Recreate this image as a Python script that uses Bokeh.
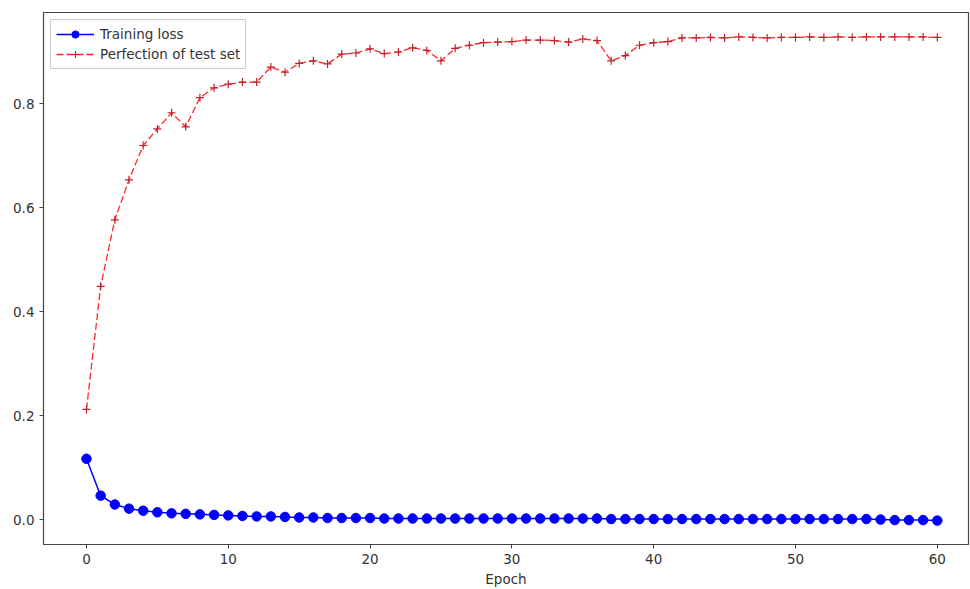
from bokeh.plotting import figure
from bokeh.models import FixedTicker, PrintfTickFormatter, Range1d
from bokeh.embed import file_html
from bokeh.resources import INLINE

epochs = list(range(61))

training_loss = [0.117, 0.046, 0.029, 0.021, 0.017, 0.014, 0.012, 0.011, 0.010, 0.009,
                 0.008, 0.007, 0.006, 0.006, 0.005, 0.004, 0.004, 0.003, 0.003, 0.003,
                 0.003, 0.002, 0.002, 0.002, 0.002, 0.002, 0.002, 0.002, 0.002, 0.002,
                 0.002, 0.002, 0.002, 0.002, 0.002, 0.002, 0.002, 0.001, 0.001, 0.001,
                 0.001, 0.001, 0.001, 0.001, 0.001, 0.001, 0.001, 0.001, 0.001, 0.001,
                 0.001, 0.001, 0.001, 0.001, 0.001, 0.001, 0.000, -0.001, -0.001, -0.001,
                 -0.002]

test_perfection = [0.212, 0.449, 0.577, 0.654, 0.720, 0.752, 0.783, 0.756, 0.812, 0.831,
                   0.838, 0.842, 0.842, 0.871, 0.861, 0.878, 0.883, 0.877, 0.896, 0.898,
                   0.906, 0.897, 0.900, 0.908, 0.903, 0.883, 0.907, 0.913, 0.918, 0.919,
                   0.920, 0.923, 0.923, 0.922, 0.919, 0.925, 0.922, 0.883, 0.893, 0.913,
                   0.918, 0.920, 0.927, 0.927, 0.928, 0.927, 0.929, 0.928, 0.927, 0.928,
                   0.928, 0.929, 0.928, 0.929, 0.928, 0.929, 0.929, 0.929, 0.929, 0.929,
                   0.928]

x_ticks = [0, 10, 20, 30, 40, 50, 60]
y_ticks = [0.0, 0.2, 0.4, 0.6, 0.8]

FONT = "DejaVu Sans"

p = figure(width=970, height=589, output_backend="svg", toolbar_location=None,
           x_range=Range1d(-3.03, 62.2), y_range=Range1d(-0.048, 0.976),
           min_border_left=43, min_border_right=2, min_border_top=12, min_border_bottom=42)

p.line(epochs, training_loss, line_color="blue", line_width=1.5, legend_label="Training loss")
p.scatter(epochs, training_loss, marker="circle", size=9.5, fill_color="blue", line_color="blue",
          legend_label="Training loss")

p.line(epochs, test_perfection, line_color="red", line_width=1.3, line_dash="7 3",
       line_alpha=0.85, legend_label="Perfection of test set")
p.scatter(epochs, test_perfection, marker="cross", size=8, line_color="#c0202a", line_width=1.2,
          legend_label="Perfection of test set")

p.xgrid.visible = False
p.ygrid.visible = False
p.outline_line_color = "#444444"
p.outline_line_width = 1.2

for ax in (p.xaxis[0], p.yaxis[0]):
    ax.axis_line_color = None
    ax.major_tick_line_color = "#444444"
    ax.major_tick_out = 4
    ax.major_tick_in = 0
    ax.minor_tick_line_color = None
    ax.major_label_text_font = FONT
    ax.major_label_text_font_size = "13.5px"
    ax.major_label_text_color = "#333333"

p.xaxis[0].ticker = FixedTicker(ticks=x_ticks)
p.yaxis[0].ticker = FixedTicker(ticks=y_ticks)
p.yaxis[0].formatter = PrintfTickFormatter(format="%.1f")
p.xaxis[0].axis_label = "Epoch"
p.xaxis[0].axis_label_text_font = FONT
p.xaxis[0].axis_label_text_font_size = "13.5px"
p.xaxis[0].axis_label_text_font_style = "normal"
p.xaxis[0].axis_label_text_color = "#333333"
p.xaxis[0].axis_label_standoff = 4

p.legend.location = "top_left"
p.legend.label_text_font = FONT
p.legend.label_text_font_size = "13.5px"
p.legend.label_text_color = "#333333"
p.legend.border_line_color = "#cccccc"
p.legend.border_line_alpha = 1
p.legend.background_fill_alpha = 0.8
p.legend.margin = 7
p.legend.padding = 5
p.legend.spacing = 2
p.legend.label_height = 18
p.legend.glyph_height = 18
p.legend.glyph_width = 38
p.legend.label_standoff = 6

open("out.html", "w").write(file_html(p, INLINE))
